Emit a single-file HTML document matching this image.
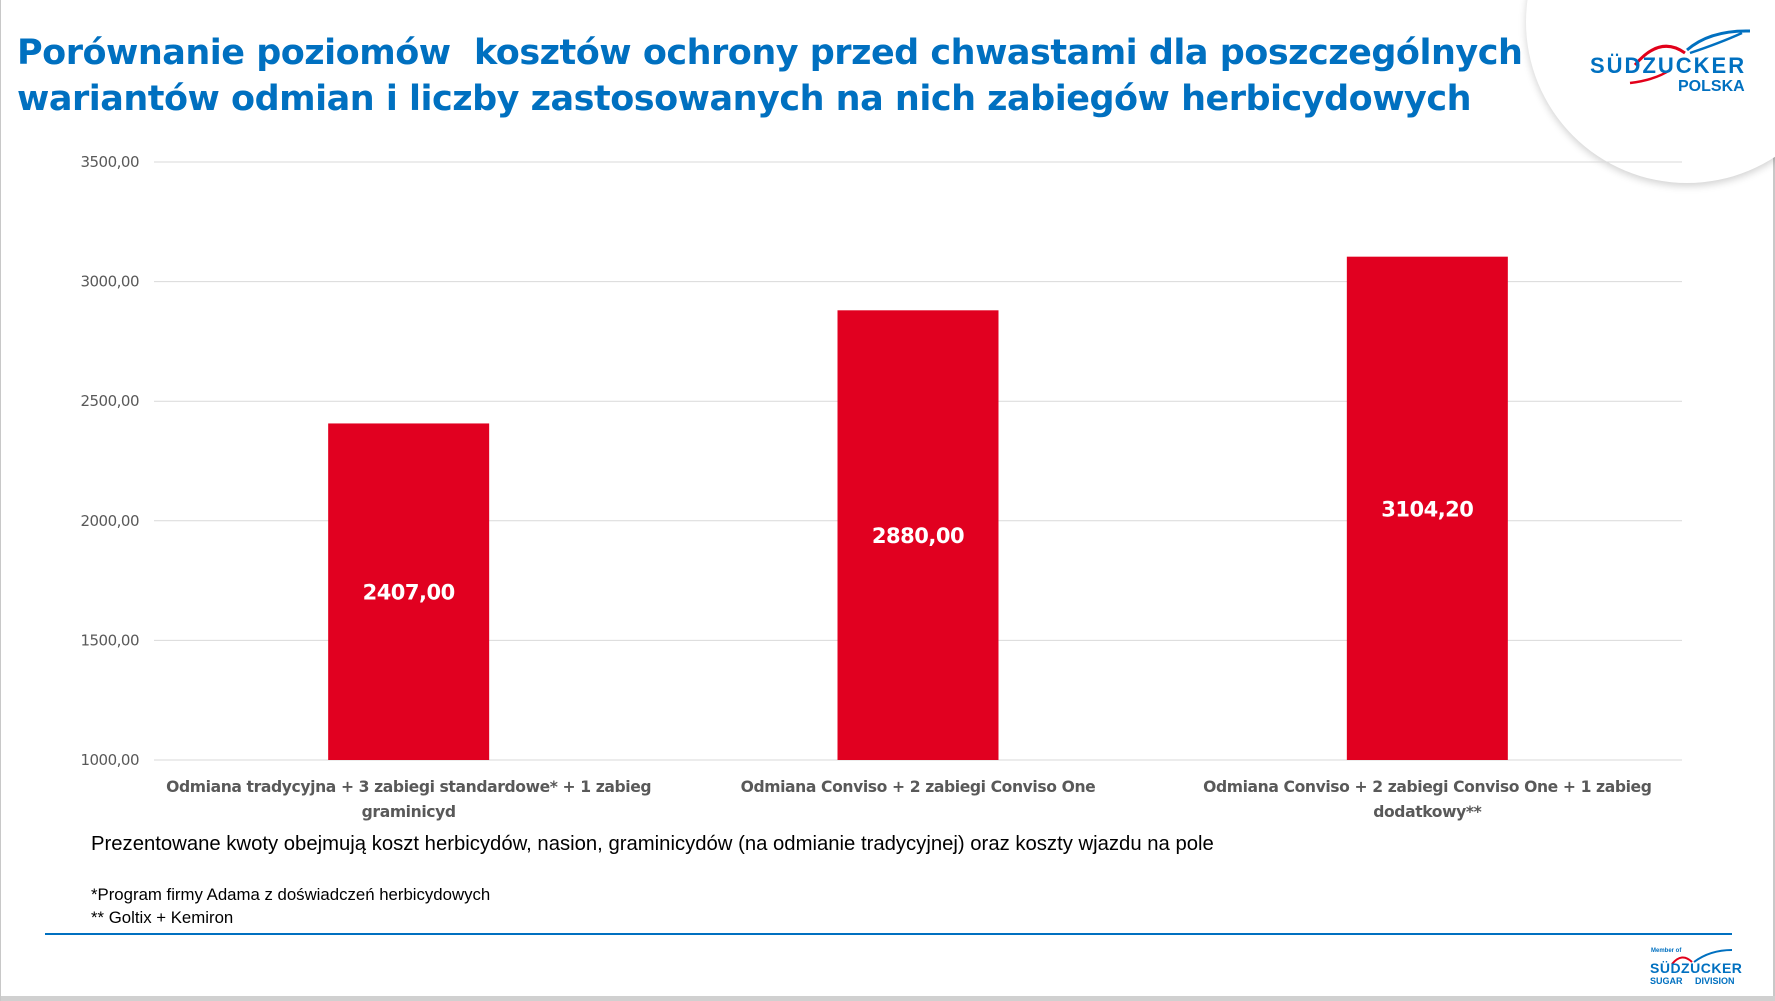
<!DOCTYPE html>
<html><head><meta charset="utf-8"><style>
body{margin:0;width:1775px;height:1001px;background:#fff;position:relative;overflow:hidden;font-family:"Liberation Sans",sans-serif}
.t{position:absolute;white-space:nowrap}
</style></head><body>
<div style="position:absolute;left:1773px;top:0;width:2px;height:1001px;background:#c8c8c8"></div>
<div style="position:absolute;left:0;top:996px;width:1775px;height:5px;background:#d0d0d0"></div>
<div style="position:absolute;left:0;top:0;width:1px;height:1001px;background:#c8c8c8"></div>
<div style="position:absolute;left:1526px;top:-139px;width:322px;height:322px;border-radius:50%;background:#fff;box-shadow:0 3px 8px rgba(0,0,0,0.18)"></div>
<svg style="position:absolute;left:1590px;top:25px" width="160" height="60">
<path d="M45 40 Q70 10 95 28" stroke="#e2001a" stroke-width="3" fill="none"/>
<path d="M40 58 Q65 55 80 45" stroke="#e2001a" stroke-width="2.5" fill="none"/>
<path d="M97 25 Q120 5 160 6" stroke="#0070c0" stroke-width="3" fill="none"/>
<path d="M100 28 Q130 18 152 8" stroke="#0070c0" stroke-width="2.5" fill="none"/>
</svg>
<div class="t" style="left:1590px;top:53px;font-size:22px;font-weight:bold;color:#0070c0;letter-spacing:2px">SÜDZUCKER</div>
<div class="t" style="left:1678px;top:78px;font-size:16px;font-weight:bold;color:#0070c0">POLSKA</div>
<div class="t" style="left:17px;top:30px;font-size:35px;font-weight:bold;color:#0070c0;line-height:46px;font-family:'DejaVu Sans','Liberation Sans',sans-serif;letter-spacing:-0.5px">Porównanie poziomów&nbsp; kosztów ochrony przed chwastami dla poszczególnych<br>wariantów odmian i liczby zastosowanych na nich zabiegów herbicydowych</div>
<svg id="chart" style="position:absolute;left:0;top:0" width="1775" height="830"></svg>
<div class="t" style="left:91px;top:833px;font-size:20.3px;color:#000">Prezentowane kwoty obejmują koszt herbicydów, nasion, graminicydów (na odmianie tradycyjnej) oraz koszty wjazdu na pole</div>
<div class="t" style="left:91px;top:885px;font-size:16.8px;color:#000">*Program firmy Adama z doświadczeń herbicydowych</div>
<div class="t" style="left:91px;top:908px;font-size:16.8px;color:#000">** Goltix + Kemiron</div>
<div style="position:absolute;left:45px;top:933px;width:1687px;height:2px;background:#0070c0"></div>
<div class="t" style="left:1651px;top:948px;font-size:6px;color:#0070c0;font-weight:bold">Member of</div>
<svg style="position:absolute;left:1660px;top:948px" width="75" height="20"><path d="M12 16 Q22 4 32 14" stroke="#e2001a" stroke-width="2" fill="none"/><path d="M34 14 Q50 2 72 2" stroke="#0070c0" stroke-width="2" fill="none"/></svg>
<div class="t" style="left:1650px;top:960px;font-size:14px;font-weight:bold;color:#0070c0;letter-spacing:0.5px">SÜDZUCKER</div>
<div class="t" style="left:1650px;top:976px;font-size:9px;font-weight:bold;color:#0070c0">SUGAR&nbsp;&nbsp;&nbsp;&nbsp;&nbsp;DIVISION</div>
<script>
const categories=[["Odmiana tradycyjna + 3 zabiegi standardowe* + 1 zabieg","graminicyd"],["Odmiana Conviso + 2 zabiegi Conviso One"],["Odmiana Conviso + 2 zabiegi Conviso One + 1 zabieg","dodatkowy**"]];
const values=[2407.00,2880.00,3104.20];
const valueLabels=["2407,00","2880,00","3104,20"];
const ticks=[1000,1500,2000,2500,3000,3500];
const tickLabels=["1000,00","1500,00","2000,00","2500,00","3000,00","3500,00"];
const NS="http://www.w3.org/2000/svg";
const svg=document.getElementById('chart');
const x0=154,x1=1682,y0=760,y1=162,ymin=1000,ymax=3500;
const y=v=>y0-(v-ymin)/(ymax-ymin)*(y0-y1);
const cw=(x1-x0)/categories.length;
const xc=i=>x0+cw*(i+0.5);
function mk(t,a){const e=document.createElementNS(NS,t);for(const k in a)e.setAttribute(k,a[k]);svg.appendChild(e);return e;}
ticks.forEach((t,i)=>{
 const l=mk('line',{x1:x0,x2:x1,y1:y(t),y2:y(t),stroke:'#d9d9d9','stroke-width':1});
 
 
 const tx=mk('text',{x:139,y:y(t)+5,'text-anchor':'end','font-size':15,fill:'#595959','font-family':'DejaVu Sans, Liberation Sans, sans-serif','letter-spacing':'-0.5'});
 tx.textContent=tickLabels[i];
 
 
});
const bw=161;
values.forEach((v,i)=>{
 const r=mk('rect',{x:xc(i)-bw/2,y:y(v),width:bw,height:y0-y(v),fill:'#e10020'});
 
 
 const lb=mk('text',{x:xc(i),y:(y(v)+y0)/2+8,'text-anchor':'middle','font-size':21,'font-weight':'bold',fill:'#fff','font-family':'DejaVu Sans, Liberation Sans, sans-serif','letter-spacing':'-0.5'});
 lb.textContent=valueLabels[i];
 
 
 categories[i].forEach((s,j)=>{
  const c=mk('text',{x:xc(i),y:792+j*25,'text-anchor':'middle','font-size':15.6,'font-weight':'bold',fill:'#595959','font-family':'DejaVu Sans, Liberation Sans, sans-serif','letter-spacing':'-0.4'});
  c.textContent=s;
  
  
 });
});
</script>
</body></html>
